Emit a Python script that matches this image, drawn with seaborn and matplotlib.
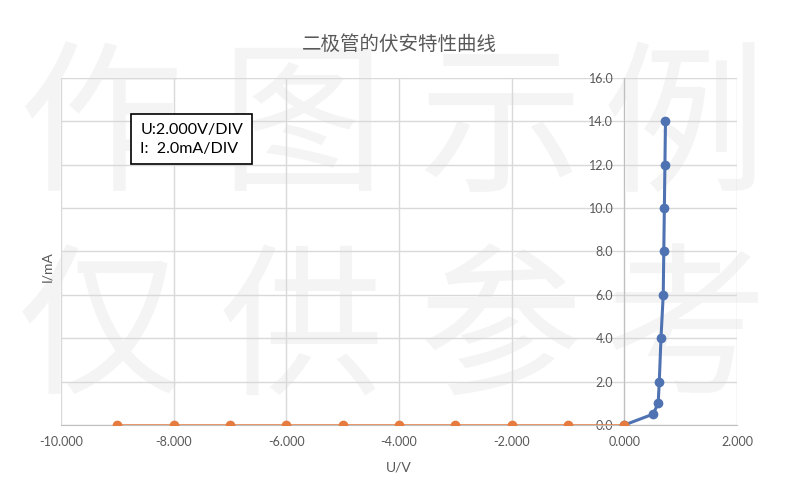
import numpy as np
import pandas as pd
import matplotlib
matplotlib.use('Agg')
import matplotlib.pyplot as plt
from matplotlib.ticker import FormatStrFormatter, MultipleLocator
import seaborn as sns

# 正向（蓝）与反向（橙）数据
u_forward = [0.0, 0.51, 0.60, 0.62, 0.65, 0.69, 0.70, 0.71, 0.72, 0.73]
i_forward = [0.0, 0.5, 1.0, 2.0, 4.0, 6.0, 8.0, 10.0, 12.0, 14.0]
u_reverse = [-9.0, -8.0, -7.0, -6.0, -5.0, -4.0, -3.0, -2.0, -1.0, 0.0]
i_reverse = [0.0, 0.0, 0.0, 0.0, 0.0, 0.0, 0.0, 0.0, 0.0, 0.0]

title = '二极管的伏安特性曲线'
note = 'U:2.000V/DIV\nI:  2.0mA/DIV'
watermark_top = '作图示例'
watermark_bottom = '仅供参考'

sns.set_style('white')
plt.rcParams['font.family'] = ['Lato', 'Noto Sans CJK SC', 'DejaVu Sans']
plt.rcParams['axes.unicode_minus'] = False

fig = plt.figure(figsize=(7.98, 4.90), dpi=100)
ax = fig.add_axes([0.0764, 0.1327, 0.8472, 0.7081])
ax.patch.set_alpha(0)

# 背景水印（放在坐标轴后面）
wm_color = '#f4f4f4'
xs = [100, 302, 500, 685]
for k, ch in enumerate(watermark_top):
    fig.text(xs[k] / 798, 1 - 132 / 490, ch, fontsize=118, color=wm_color,
             ha='center', va='center', family=['Noto Sans CJK SC'],
             weight='medium', zorder=-5)
for k, ch in enumerate(watermark_bottom):
    fig.text(xs[k] / 798, 1 - 335 / 490, ch, fontsize=118, color=wm_color,
             ha='center', va='center', family=['Noto Sans CJK SC'],
             weight='medium', zorder=-5)

blue = '#4e72b2'
orange = '#e57b3e'
fwd = pd.DataFrame({'U': u_forward, 'I': i_forward})
rev = pd.DataFrame({'U': u_reverse, 'I': i_reverse})
sns.lineplot(data=fwd, x='U', y='I', ax=ax, color=blue, lw=2.2, marker='o',
             markersize=7, markeredgewidth=0, sort=False, estimator=None,
             zorder=3)
sns.lineplot(data=rev, x='U', y='I', ax=ax, color=orange, lw=1.8, marker='o',
             markersize=7, markeredgewidth=0, sort=False, estimator=None,
             zorder=4)

ax.set_xlim(-10, 2)
ax.set_ylim(0, 16)
ax.xaxis.set_major_locator(MultipleLocator(2))
ax.yaxis.set_major_locator(MultipleLocator(2))
ax.xaxis.set_major_formatter(FormatStrFormatter('%.3f'))
ax.yaxis.set_major_formatter(FormatStrFormatter('%.1f'))
ax.grid(True, color='#d9d9d9', lw=1)
ax.set_axisbelow(True)

for s in ['top', 'right']:
    ax.spines[s].set_visible(False)
ax.spines['left'].set_position(('data', 0))
ax.spines['left'].set_color('#bfbfbf')
ax.spines['bottom'].set_color('#bfbfbf')
ax.tick_params(axis='both', length=0, labelsize=9, labelcolor='#595959')
ax.tick_params(axis='y', pad=8)
ax.tick_params(axis='x', pad=8)

ax.set_xlabel('U/V', fontsize=10, color='#595959', labelpad=10)
ax.set_ylabel('')
fig.text(47 / 798, 1 - 267 / 490, 'I/mA', rotation=90, fontsize=10, color='#595959',
         ha='center', va='center')
fig.text(0.5, 1 - 44 / 490, title, fontsize=14, color='#595959', ha='center',
         va='center', family=['Noto Sans CJK SC'])

ax.text(-7.68, 13.18, note, fontsize=11.5, color='black', ha='center', va='center',
        multialignment='left', linespacing=1.45, zorder=6,
        bbox=dict(boxstyle='square,pad=0.55', fc='white', ec='black', lw=1.2))

fig.savefig('out.png', dpi=100)
